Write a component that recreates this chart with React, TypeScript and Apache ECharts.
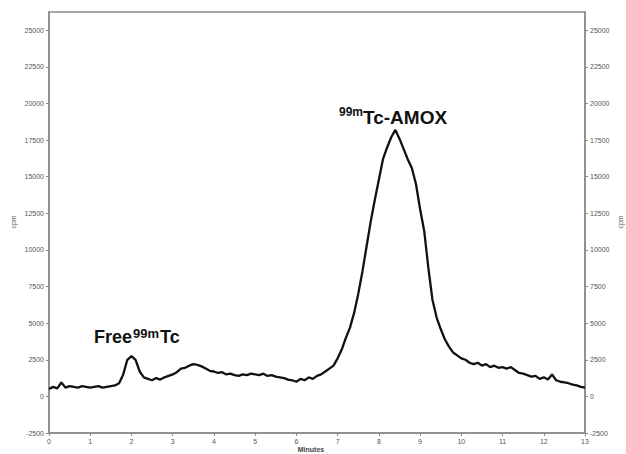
import React, { useEffect, useRef } from "react";
import * as echarts from "echarts";

const minutes: number[] = [
  0.0, 0.1, 0.2, 0.3, 0.4, 0.5, 0.6, 0.7, 0.8, 0.9,
  1.0, 1.1, 1.2, 1.3, 1.4, 1.5, 1.6, 1.7, 1.8, 1.9,
  2.0, 2.1, 2.2, 2.3, 2.4, 2.5, 2.6, 2.7, 2.8, 2.9,
  3.0, 3.1, 3.2, 3.3, 3.4, 3.5, 3.6, 3.7, 3.8, 3.9,
  4.0, 4.1, 4.2, 4.3, 4.4, 4.5, 4.6, 4.7, 4.8, 4.9,
  5.0, 5.1, 5.2, 5.3, 5.4, 5.5, 5.6, 5.7, 5.8, 5.9,
  6.0, 6.1, 6.2, 6.3, 6.4, 6.5, 6.6, 6.7, 6.8, 6.9,
  7.0, 7.1, 7.2, 7.3, 7.4, 7.5, 7.6, 7.7, 7.8, 7.9,
  8.0, 8.1, 8.2, 8.3, 8.4, 8.5, 8.6, 8.7, 8.8, 8.9,
  9.0, 9.1, 9.2, 9.3, 9.4, 9.5, 9.6, 9.7, 9.8, 9.9,
  10.0, 10.1, 10.2, 10.3, 10.4, 10.5, 10.6, 10.7, 10.8, 10.9,
  11.0, 11.1, 11.2, 11.3, 11.4, 11.5, 11.6, 11.7, 11.8, 11.9,
  12.0, 12.1, 12.2, 12.3, 12.4, 12.5, 12.6, 12.7, 12.8, 12.9,
  13.0,
];

const cpm: number[] = [
  500, 650, 550, 950, 600, 700, 650, 600, 700, 650,
  600, 650, 700, 600, 650, 700, 750, 900, 1500, 2500,
  2750, 2500, 1700, 1300, 1200, 1100, 1250, 1150, 1300, 1400,
  1500, 1650, 1900, 1950, 2100, 2200, 2150, 2050, 1900, 1750,
  1700, 1600, 1650, 1500, 1550, 1450, 1400, 1500, 1450, 1550,
  1500, 1450, 1550, 1400, 1450, 1350, 1300, 1250, 1150, 1100,
  1000, 1200, 1100, 1300, 1200, 1400, 1500, 1700, 1900, 2100,
  2600, 3200, 4000, 4700, 5700, 7000, 8500, 10200, 11900, 13400,
  14800, 16200, 17000, 17700, 18200, 17600, 16900, 16200, 15600, 14500,
  12800, 11300, 8800, 6600, 5400, 4600, 3900, 3400, 3000, 2800,
  2600, 2500, 2300, 2200, 2300, 2100, 2200, 2000, 2100, 1950,
  2000, 1900, 2000, 1800, 1600, 1550, 1450, 1350, 1400, 1200,
  1300, 1150, 1500, 1100, 1000, 950, 900, 800, 750, 650,
  600,
];

const yTicks: number[] = [-2500, 0, 2500, 5000, 7500, 10000, 12500, 15000, 17500, 20000, 22500, 25000];
const xTicks: number[] = [0, 1, 2, 3, 4, 5, 6, 7, 8, 9, 10, 11, 12, 13];

const axisColor = "#8a8a8a";
const labelColor = "#555";
const labelFont = "Liberation Sans";

export default function App() {
  const ref = useRef<HTMLDivElement>(null);
  useEffect(() => {
    if (!ref.current) return;
    const chart = echarts.init(ref.current, undefined, { renderer: "svg" });
    const yAxisBase = (pos: "left" | "right") => ({
      type: "value" as const,
      position: pos,
      min: -2500,
      max: 26250,
      interval: 2500,
      splitLine: { show: false },
      axisLine: { show: true, onZero: false, lineStyle: { color: axisColor, width: 1.5 } },
      axisTick: { show: true, length: 3, customValues: yTicks, lineStyle: { color: axisColor } },
      axisLabel: {
        customValues: yTicks,
        fontSize: 7,
        color: labelColor,
        fontFamily: labelFont,
        margin: 5,
        formatter: (v: number) => (v % 2500 === 0 ? String(v) : ""),
      },
    });
    chart.setOption({
      animation: false,
      backgroundColor: "#ffffff",
      grid: {
        left: 49,
        right: 41,
        top: 12,
        bottom: 21,
        show: true,
        borderColor: axisColor,
        borderWidth: 1.5,
      },
      xAxis: {
        type: "value",
        min: 0,
        max: 13,
        interval: 1,
        splitLine: { show: false },
        axisLine: { show: true, onZero: false, lineStyle: { color: axisColor, width: 1.5 } },
        axisTick: { show: true, length: 3, customValues: xTicks, lineStyle: { color: axisColor } },
        axisLabel: { fontSize: 7, color: labelColor, fontFamily: labelFont, margin: 5 },
      },
      yAxis: [yAxisBase("left"), yAxisBase("right")],
      series: [
        {
          type: "line",
          yAxisIndex: 0,
          data: minutes.map((m, i) => [m, cpm[i]]),
          showSymbol: false,
          smooth: false,
          lineStyle: { color: "#111", width: 2.3 },
        },
      ],
      graphic: [
        {
          type: "text",
          x: 13,
          y: 222,
          rotation: Math.PI / 2,
          style: { text: "cpm", font: `7px ${labelFont}`, fill: labelColor, align: "center", verticalAlign: "middle" },
        },
        {
          type: "text",
          x: 620,
          y: 222,
          rotation: Math.PI / 2,
          style: { text: "cpm", font: `7px ${labelFont}`, fill: labelColor, align: "center", verticalAlign: "middle" },
        },
        {
          type: "text",
          x: 311,
          y: 446,
          style: { text: "Minutes", font: `bold 7px ${labelFont}`, fill: "#444", align: "center", verticalAlign: "top" },
        },
        {
          type: "text",
          x: 94,
          y: 337,
          style: { text: "Free", font: `bold 18px ${labelFont}`, fill: "#111", align: "left", verticalAlign: "middle" },
        },
        {
          type: "text",
          x: 133,
          y: 333,
          style: { text: "99m", font: `bold 13px ${labelFont}`, fill: "#111", align: "left", verticalAlign: "middle" },
        },
        {
          type: "text",
          x: 160,
          y: 337,
          style: { text: "Tc", font: `bold 18px ${labelFont}`, fill: "#111", align: "left", verticalAlign: "middle" },
        },
        {
          type: "text",
          x: 339,
          y: 112,
          style: { text: "99m", font: `bold 12px ${labelFont}`, fill: "#111", align: "left", verticalAlign: "middle" },
        },
        {
          type: "text",
          x: 363,
          y: 117,
          style: { text: "Tc-AMOX", font: `bold 19px ${labelFont}`, fill: "#111", align: "left", verticalAlign: "middle" },
        },
      ],
    });
    return () => chart.dispose();
  }, []);
  return <div ref={ref} style={{ position: "fixed", left: 0, top: 0, width: 626, height: 454 }} />;
}
